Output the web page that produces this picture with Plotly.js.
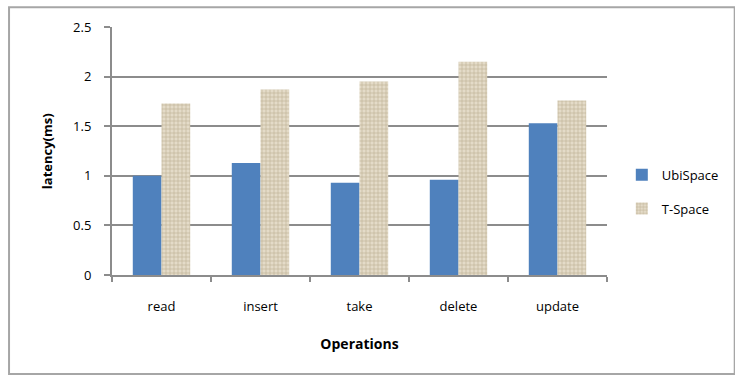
<!DOCTYPE html>
<html><head><meta charset="utf-8">
<script src="https://cdn.plot.ly/plotly-3.0.1.min.js"></script>
<style>html,body{margin:0;padding:0;background:#fff}#c{width:735px;height:376px}</style>
</head><body><div id="c"></div>
<script>
const categories = ["read", "insert", "take", "delete", "update"];
const ubiSpace = [1.00, 1.13, 0.93, 0.96, 1.53];
const tSpace = [1.73, 1.87, 1.95, 2.15, 1.76];
const yTicks = [0, 0.5, 1, 1.5, 2, 2.5];
const yTickLabels = ["0", "0.5", "1", "1.5", "2", "2.5"];

const font = "Open Sans, Liberation Sans, sans-serif";
const traces = [
  {type: "bar", name: "UbiSpace", x: categories, y: ubiSpace, legendgroup: "a",
   marker: {color: "#4f81bd", line: {width: 0}}},
  {type: "bar", name: "T-Space", x: categories, y: tSpace, legendgroup: "b",
   marker: {color: "#e4dbc8", line: {width: 0},
            pattern: {shape: "+", fgcolor: "#bdb197", bgcolor: "#e4dbc8", size: 4, solidity: 0.3}}}
];
const layout = {
  width: 735, height: 376,
  margin: {l: 112, r: 128, t: 27, b: 101},
  paper_bgcolor: "#fff", plot_bgcolor: "#fff",
  font: {family: font, size: 13, color: "#000"},
  barmode: "group", bargap: 0.42, bargroupgap: 0,
  showlegend: true,
  legend: {xref: "container", yref: "container", x: 0.846, y: 0.49, xanchor: "left", yanchor: "middle",
           traceorder: "grouped", tracegroupgap: 14, font: {size: 13, family: font},
           bgcolor: "rgba(0,0,0,0)"},
  xaxis: {type: "category", showline: true, linecolor: "#8c8c8c", linewidth: 2,
          ticks: "outside", tickson: "boundaries", ticklen: 5, tickcolor: "#8c8c8c", tickwidth: 2,
          ticklabelstandoff: 18, showgrid: false, automargin: false,
          title: {text: "<b>Operations</b>", font: {size: 14, family: font}, standoff: 26}},
  yaxis: {range: [0, 2.5], tickvals: yTicks, ticktext: yTickLabels, showline: true,
          linecolor: "#8c8c8c", linewidth: 2, ticks: "outside", ticklen: 6, tickcolor: "#8c8c8c",
          tickwidth: 2, showgrid: true, gridcolor: "#8c8c8c", gridwidth: 2, zeroline: false,
          ticklabelstandoff: 10, automargin: false},
  annotations: [{text: "<b>latency(ms)</b>", xref: "paper", yref: "paper", x: -0.131, y: 0.5,
                 xanchor: "center", yanchor: "middle", textangle: -90, showarrow: false,
                 font: {size: 13, family: font}}],
  shapes: [{type: "rect", xref: "paper", yref: "paper", x0: -0.208, x1: 1.258, y0: -0.399, y1: 1.08,
            line: {color: "#a6a6a6", width: 2}, layer: "below"}]
};
Plotly.newPlot("c", traces, layout, {displayModeBar: false, staticPlot: true});
</script></body></html>
